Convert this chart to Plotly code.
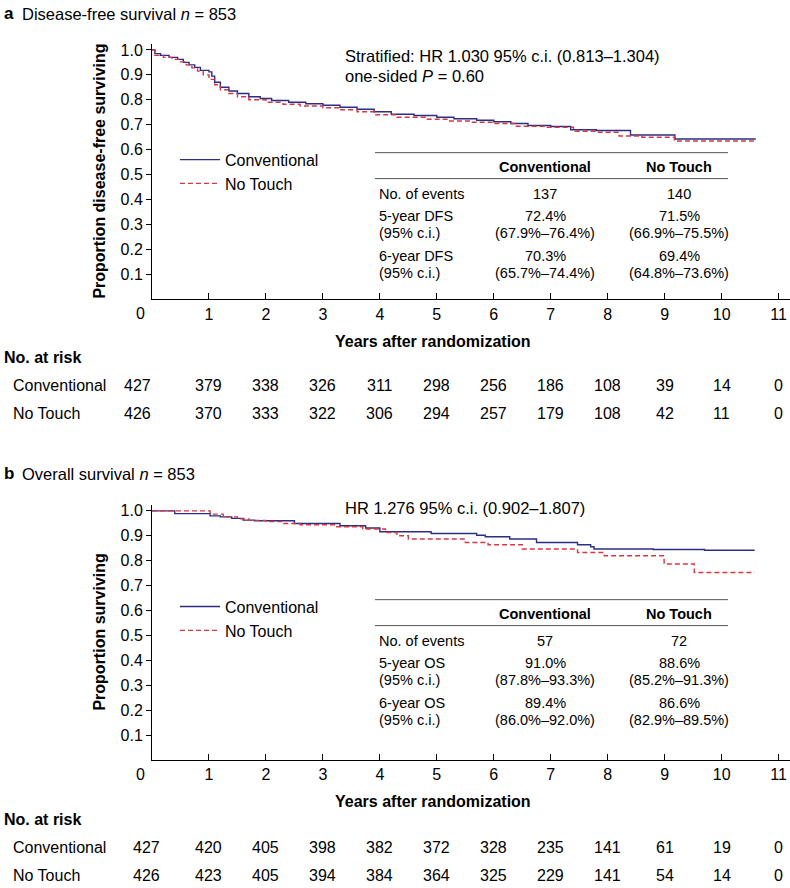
import plotly.graph_objects as go

# ---------------- data ----------------
years = list(range(0, 12))

dfs_conv_t = [0, 0.05, 0.15, 0.3, 0.45, 0.55, 0.65, 0.75, 0.85, 1.0, 1.05, 1.1, 1.2, 1.35, 1.5, 1.7, 1.9, 2.1, 2.4,
              2.7, 3.0, 3.3, 3.6, 3.9, 4.2, 4.6, 5.0, 5.3, 5.7, 6.0, 6.3, 6.6, 7.0, 7.35, 7.8, 8.4, 9.18, 10.6]
dfs_conv_v = [1.0, 0.985, 0.978, 0.97, 0.962, 0.95, 0.94, 0.93, 0.918, 0.912, 0.895, 0.87, 0.85, 0.835, 0.825, 0.812,
              0.805, 0.797, 0.79, 0.784, 0.778, 0.77, 0.762, 0.752, 0.742, 0.737, 0.73, 0.724, 0.718, 0.712, 0.705,
              0.697, 0.693, 0.68, 0.677, 0.659, 0.643, 0.643]

dfs_nt_t = [0, 0.05, 0.2, 0.35, 0.5, 0.6, 0.7, 0.8, 0.9, 1.0, 1.1, 1.2, 1.35, 1.5, 1.7, 2.0, 2.3, 2.6, 3.0, 3.3,
            3.6, 3.9, 4.3, 4.8, 5.2, 5.6, 6.0, 6.38, 6.9, 7.4, 7.8, 8.2, 8.6, 9.17, 10.6]
dfs_nt_v = [1.0, 0.978, 0.97, 0.962, 0.952, 0.94, 0.928, 0.915, 0.9, 0.882, 0.86, 0.84, 0.825, 0.812, 0.8, 0.79,
            0.782, 0.775, 0.768, 0.76, 0.752, 0.74, 0.73, 0.722, 0.715, 0.71, 0.705, 0.694, 0.69, 0.674, 0.67, 0.655,
            0.65, 0.635, 0.635]

os_conv_t = [0, 0.4, 1.02, 1.2, 1.4, 1.6, 1.8, 2.5, 3.3, 3.75, 4.0, 4.9, 5.7, 5.85, 6.28, 6.75, 7.47, 7.7, 7.76,
             8.8, 9.7, 10.58]
os_conv_v = [1.0, 0.989, 0.98, 0.976, 0.97, 0.963, 0.96, 0.949, 0.94, 0.931, 0.916, 0.909, 0.902, 0.896, 0.887,
             0.873, 0.864, 0.856, 0.847, 0.845, 0.842, 0.842]

os_nt_t = [0, 1.02, 1.25, 1.5, 1.7, 2.0, 2.3, 2.6, 3.2, 3.7, 4.1, 4.3, 4.5, 5.5, 5.9, 6.5, 7.47, 7.94, 8.99, 9.52,
           10.58]
os_nt_v = [1.0, 0.987, 0.976, 0.968, 0.962, 0.957, 0.949, 0.944, 0.936, 0.927, 0.913, 0.9, 0.887, 0.873, 0.864,
           0.847, 0.833, 0.82, 0.787, 0.753, 0.753]

risk_dfs_conv = [427, 379, 338, 326, 311, 298, 256, 186, 108, 39, 14, 0]
risk_dfs_nt = [426, 370, 333, 322, 306, 294, 257, 179, 108, 42, 11, 0]
risk_os_conv = [427, 420, 405, 398, 382, 372, 328, 235, 141, 61, 19, 0]
risk_os_nt = [426, 423, 405, 394, 384, 364, 325, 229, 141, 54, 14, 0]

table_cols = ["Conventional", "No Touch"]
dfs_table_rows = ["No. of events", "5-year DFS", "(95% c.i.)", "6-year DFS", "(95% c.i.)"]
dfs_table_conv = ["137", "72.4%", "(67.9%–76.4%)", "70.3%", "(65.7%–74.4%)"]
dfs_table_nt = ["140", "71.5%", "(66.9%–75.5%)", "69.4%", "(64.8%–73.6%)"]
os_table_rows = ["No. of events", "5-year OS", "(95% c.i.)", "6-year OS", "(95% c.i.)"]
os_table_conv = ["57", "91.0%", "(87.8%–93.3%)", "89.4%", "(86.0%–92.0%)"]
os_table_nt = ["72", "88.6%", "(85.2%–91.3%)", "86.6%", "(82.9%–89.5%)"]

yticks = [0.1, 0.2, 0.3, 0.4, 0.5, 0.6, 0.7, 0.8, 0.9, 1.0]

# ---------------- style ----------------
W, H = 790, 888
FONT = "Liberation Sans, Arial, Helvetica, sans-serif"
BLUE = "#2b2e83"
RED = "#cf3a44"


def px(x):
    return x / W


def py(y):
    return 1 - y / H


fig = go.Figure()

panels = [
    dict(xa="x", ya="y", lg="legend", conv=(dfs_conv_t, dfs_conv_v), nt=(dfs_nt_t, dfs_nt_v)),
    dict(xa="x2", ya="y2", lg="legend2", conv=(os_conv_t, os_conv_v), nt=(os_nt_t, os_nt_v)),
]
for p in panels:
    fig.add_trace(go.Scatter(x=p["conv"][0], y=p["conv"][1], mode="lines", line_shape="hv",
                             line=dict(color=BLUE, width=1.4), name="Conventional",
                             xaxis=p["xa"], yaxis=p["ya"], legend=p["lg"], legendgroup=p["lg"] + "c",
                             hoverinfo="skip"))
    fig.add_trace(go.Scatter(x=p["nt"][0], y=p["nt"][1], mode="lines", line_shape="hv",
                             line=dict(color=RED, width=1.4, dash="5px,3px"), name="No Touch",
                             xaxis=p["xa"], yaxis=p["ya"], legend=p["lg"], legendgroup=p["lg"] + "n",
                             hoverinfo="skip"))

xcommon = dict(range=[0, 11.2], showline=True, linecolor="black", linewidth=1, ticks="inside", ticklen=6,
               tickcolor="black", tickvals=years[1:], ticktext=[str(v) for v in years[1:]],
               tickfont=dict(size=16, family=FONT, color="black"), showgrid=False, zeroline=False,
               domain=[px(152), 1.0])
ycommon = dict(range=[0, 1.024], showline=True, linecolor="black", linewidth=1, ticks="outside", ticklen=5,
               tickcolor="black", tickvals=yticks, ticktext=["%.1f" % v for v in yticks],
               tickfont=dict(size=16, family=FONT, color="black"), showgrid=False, zeroline=False)

fig.update_layout(
    width=W, height=H, margin=dict(l=0, r=0, t=0, b=0),
    paper_bgcolor="white", plot_bgcolor="white",
    font=dict(family=FONT, size=16, color="black"),
    xaxis=dict(**xcommon, anchor="y"),
    yaxis=dict(**ycommon, domain=[py(298), py(42)], anchor="x"),
    xaxis2=dict(**xcommon, anchor="y2"),
    yaxis2=dict(**ycommon, domain=[py(760), py(504)], anchor="x2"),
    legend=dict(x=px(175), y=py(141), xanchor="left", yanchor="top", bgcolor="rgba(0,0,0,0)",
                font=dict(size=16, family=FONT), tracegroupgap=0, itemwidth=40),
    legend2=dict(x=px(175), y=py(589), xanchor="left", yanchor="top", bgcolor="rgba(0,0,0,0)",
                 font=dict(size=16, family=FONT), tracegroupgap=0, itemwidth=40),
    showlegend=True,
)

ann = []


def text(x, y, s, size=16, xanchor="left", bold=False, **kw):
    if bold:
        s = "<b>" + s + "</b>"
    ann.append(dict(x=x, y=y, xref="paper", yref="paper", text=s, showarrow=False, xanchor=xanchor,
                    yanchor="middle", font=dict(size=size, family=FONT, color="black"), **kw))


shapes = []


def panel_text(dy, title, axis_title, stat_lines, rows, conv, nt, risk_c, risk_n, xref, zero_shift):
    # panel title
    text(px(2), py(12 + dy), "a" if dy == 0 else "b", size=17, bold=True)
    text(px(20), py(12 + dy), title, size=16.5)
    # stats annotation
    for i, s in enumerate(stat_lines):
        text(px(343), py((54 if dy == 0 else 46) + dy + 20 * i), s, size=16.5)
    # y-axis title
    ycen = 170 if dy == 0 else 632 - dy
    ann.append(dict(x=px(100), y=py(ycen + dy), xref="paper", yref="paper", text="<b>" + axis_title + "</b>",
                    showarrow=False, textangle=-90, xanchor="center", yanchor="middle",
                    font=dict(size=16, family=FONT, color="black")))
    # x title
    text(px(433), py(340 + (0 if dy == 0 else 461)), "Years after randomization", bold=True, xanchor="center")
    # zero tick label
    ax_y = 298 if dy == 0 else 760
    ann.append(dict(x=0, y=py(ax_y + 14), xref=xref, yref="paper", text="0", showarrow=False, xshift=-12,
                    xanchor="center", yanchor="middle", font=dict(size=16, family=FONT, color="black")))
    # table
    tdy = 0 if dy == 0 else 448
    for yy in (151, 177):
        shapes.append(dict(type="line", xref="paper", yref="paper", x0=px(375), x1=px(728),
                           y0=py(yy + tdy), y1=py(yy + tdy), line=dict(color="#555555", width=1)))
    text(px(545), py(165 + tdy), table_cols[0], size=14.5, bold=True, xanchor="center")
    text(px(679), py(165 + tdy), table_cols[1], size=14.5, bold=True, xanchor="center")
    row_y = [192, 214, 232, 255, 272]
    for r, c, n, yy in zip(rows, conv, nt, row_y):
        text(px(377), py(yy + tdy), r, size=14.5)
        text(px(545), py(yy + tdy), c, size=14.5, xanchor="center")
        text(px(679), py(yy + tdy), n, size=14.5, xanchor="center")
    # number at risk
    base = 356 if dy == 0 else 819
    text(px(2), py(base), "No. at risk", bold=True)
    text(px(11), py(base + 28), "Conventional")
    text(px(11), py(base + 56), "No Touch")
    for i, yv in enumerate(years):
        for val, off in ((risk_c[i], 28), (risk_n[i], 56)):
            ann.append(dict(x=yv, y=py(base + off), xref=xref, yref="paper", text=str(val), showarrow=False,
                            xanchor="center", yanchor="middle", xshift=(zero_shift if i == 0 else 0),
                            font=dict(size=16, family=FONT, color="black")))


panel_text(0, "Disease-free survival <i>n</i> = 853", "Proportion disease-free surviving",
           ["Stratified: HR 1.030 95% c.i. (0.813–1.304)", "one-sided <i>P</i> = 0.60"],
           dfs_table_rows, dfs_table_conv, dfs_table_nt, risk_dfs_conv, risk_dfs_nt, "x", -15)
panel_text(461, "Overall survival <i>n</i> = 853", "Proportion surviving",
           ["HR 1.276 95% c.i. (0.902–1.807)"],
           os_table_rows, os_table_conv, os_table_nt, risk_os_conv, risk_os_nt, "x2", -6)

fig.update_layout(annotations=ann, shapes=shapes)
fig.write_html("out.html", config={"displayModeBar": False},
               post_script="document.body.style.margin='0';document.body.style.padding='0';")
